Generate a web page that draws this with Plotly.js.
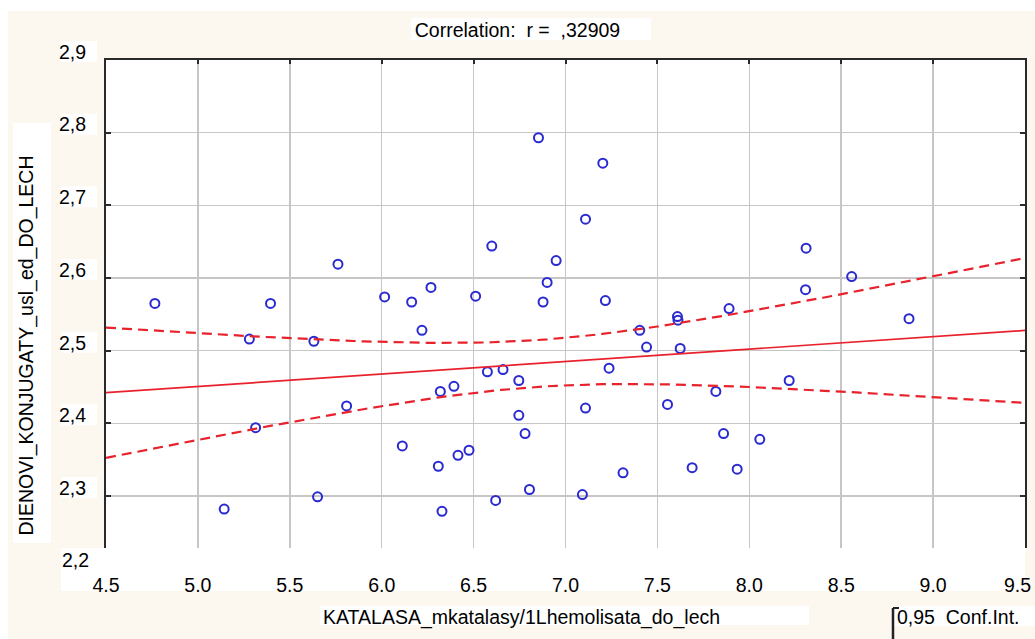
<!DOCTYPE html>
<html>
<head>
<meta charset="utf-8">
<script src="https://cdn.plot.ly/plotly-3.0.1.min.js"></script>
<style>html,body{margin:0;padding:0;background:#fff;}#chart{width:1035px;height:639px;}</style>
</head>
<body>
<div id="chart"></div>
<script>
// ---- data ----
const katalasa = [4.766,5.143,5.280,5.314,5.395,5.631,5.651,5.762,5.809,6.016,6.112,6.163,6.219,6.268,6.308,6.319,6.328,6.393,6.415,6.475,6.511,6.575,6.599,6.620,6.660,6.746,6.746,6.780,6.804,6.853,6.878,6.900,6.949,7.092,7.109,7.109,7.203,7.217,7.237,7.313,7.404,7.441,7.555,7.609,7.612,7.624,7.689,7.818,7.860,7.890,7.934,8.057,8.217,8.306,8.309,8.557,8.869];
const dienovi = [2.565,2.282,2.516,2.394,2.565,2.513,2.299,2.619,2.424,2.574,2.369,2.567,2.528,2.587,2.341,2.444,2.279,2.451,2.356,2.363,2.575,2.471,2.644,2.294,2.474,2.459,2.411,2.386,2.309,2.793,2.567,2.594,2.624,2.302,2.681,2.421,2.758,2.569,2.476,2.332,2.528,2.505,2.426,2.547,2.542,2.503,2.339,2.444,2.386,2.558,2.337,2.378,2.459,2.584,2.641,2.602,2.544];
const xTickVals = [4.5,5.0,5.5,6.0,6.5,7.0,7.5,8.0,8.5,9.0,9.5];
const xTickText = ['4.5','5.0','5.5','6.0','6.5','7.0','7.5','8.0','8.5','9.0','9.5'];
const yTickVals = [2.3,2.4,2.5,2.6,2.7,2.8,2.9];
const yTickText = ['2,3','2,4','2,5','2,6','2,7','2,8','2,9'];
const yBottomTick = 2.2, yBottomText = '2,2';
const titleText = 'Correlation:\u00a0 r =\u00a0 ,32909';
const xTitle = 'KATALASA_mkatalasy/1Lhemolisata_do_lech';
const yTitle = 'DIENOVI_KONJUGATY_usl_ed_DO_LECH';
const legendText = '0,95\u00a0 Conf.Int.';
const confT = 2.004; // t(0.975, n-2)

// ---- regression with 95% confidence band, computed from the data ----
const n = katalasa.length;
const mx = katalasa.reduce((a,b)=>a+b,0)/n;
const my = dienovi.reduce((a,b)=>a+b,0)/n;
let sxx=0, sxy=0;
for (let i=0;i<n;i++){ sxx += (katalasa[i]-mx)**2; sxy += (katalasa[i]-mx)*(dienovi[i]-my); }
const b = sxy/sxx, a = my - b*mx;
let sse=0; for (let i=0;i<n;i++){ sse += (dienovi[i]-(a+b*katalasa[i]))**2; }
const s = Math.sqrt(sse/(n-2));
const xr = [xTickVals[0], xTickVals[xTickVals.length-1]];
const fx=[], fy=[], lo=[], hi=[];
for (let k=0;k<=100;k++){
  const x = xr[0] + (xr[1]-xr[0])*k/100;
  const y = a + b*x;
  const h = confT*s*Math.sqrt(1/n + (x-mx)**2/sxx);
  fx.push(x); fy.push(y); lo.push(y-h); hi.push(y+h);
}

// ---- layout geometry (pixels) ----
const W=1035, H=639, L=106, R=10, T=60, B=91;
const PW = W-L-R, PH = H-T-B;
const yMin = 2.2285, yMax = 2.9;
const px = p => (p-L)/PW;            // pixel x -> paper
const py = p => (H-B-p)/PH;          // pixel y -> paper
const dataPy = v => T + (yMax-v)/(yMax-yMin)*PH;
const cream = '#fcf8ef';
const FONT = 'Liberation Sans, Arial, sans-serif';
const FS = 19.5;

// the last x tick label is drawn as an annotation, nudged left so it stays inside the picture
const lastX = xTickVals.length-1;
const xTickShown = xTickText.map((t,i)=> i===lastX ? '' : t);

function rect(x0,y0,x1,y1,color){
  return {type:'rect', xref:'paper', yref:'paper', x0:px(x0), x1:px(x1), y0:py(y1), y1:py(y0),
          fillcolor:color, line:{width:0}, layer:'below'};
}
const shapes = [
  rect(0,0,W,11,'#ffffff'),
  rect(0,0,8,H,'#ffffff'),
  rect(411,18,651,40,'#ffffff'),
  rect(13,123,51,543,'#ffffff'),
  rect(61,548,1025,591,'#ffffff'),
  rect(320,606,809,625,'#ffffff'),
  rect(893,606,W,626,'#ffffff'),
  {type:'line', xref:'paper', yref:'paper', x0:px(893), x1:px(893), y0:py(608), y1:py(H), line:{color:'#222', width:2.5}},
  {type:'line', xref:'paper', yref:'paper', x0:px(893), x1:px(899), y0:py(608), y1:py(608), line:{color:'#222', width:2}}
];
yTickVals.concat([yBottomTick]).forEach(v=>{
  const g = dataPy(v);
  shapes.push(rect(61, g-19, 97, g+2, '#ffffff'));
});

const traces = [
  {x:katalasa, y:dienovi, type:'scatter', mode:'markers', hoverinfo:'skip',
   marker:{symbol:'circle-open', size:9, color:'#2a2ad0', line:{width:2, color:'#2a2ad0'}}},
  {x:fx, y:fy, type:'scatter', mode:'lines', line:{color:'#e8222c', width:1.7}, hoverinfo:'skip'},
  {x:fx, y:hi, type:'scatter', mode:'lines', line:{color:'#e8222c', width:2.2, dash:'10px,6px'}, hoverinfo:'skip'},
  {x:fx, y:lo, type:'scatter', mode:'lines', line:{color:'#e8222c', width:2.2, dash:'10px,6px'}, hoverinfo:'skip'},
  {x:[], y:[], xaxis:'x2', type:'scatter', mode:'markers', hoverinfo:'skip'}
];

const layout = {
  width:W, height:H, showlegend:false,
  paper_bgcolor:cream, plot_bgcolor:'#ffffff',
  margin:{l:L, r:R, t:T, b:B, pad:0},
  font:{family:FONT, size:FS, color:'#000'},
  title:{text:titleText, x:0.5, xref:'container', xanchor:'center', y:1-30/H, yanchor:'middle',
         font:{family:FONT, size:FS, color:'#000'}},
  xaxis:{range:xr, tickvals:xTickVals, ticktext:xTickShown, showgrid:true, gridcolor:'#c6c6c6', gridwidth:1.5,
         zeroline:false, showline:false, ticks:'', ticklabelstandoff:23, ticklabeloverflow:'allow',
         tickfont:{family:FONT, size:FS, color:'#000'}},
  xaxis2:{overlaying:'x', side:'top', anchor:'y', range:xr, tickvals:xTickVals, showticklabels:false,
          showgrid:false, zeroline:false, showline:true, linecolor:'#2a2a2a', linewidth:2,
          ticks:'inside', ticklen:4, tickwidth:2, tickcolor:'#2a2a2a'},
  yaxis:{range:[yMin,yMax], tickvals:yTickVals, ticktext:yTickText, showgrid:true, gridcolor:'#c6c6c6', gridwidth:1.5,
         zeroline:false, showline:true, mirror:'ticks', linecolor:'#2a2a2a', linewidth:2,
         ticks:'inside', ticklen:5, tickwidth:2, tickcolor:'#2a2a2a',
         ticklabelstandoff:14, ticklabelshift:-8, ticklabeloverflow:'allow',
         tickfont:{family:FONT, size:FS, color:'#000'}},
  shapes:shapes,
  annotations:[
    {text:xTickText[lastX], xref:'x', yref:'paper', x:xTickVals[lastX], y:py(585), xanchor:'center', yanchor:'middle', xshift:-8,
     showarrow:false, font:{family:FONT, size:FS, color:'#000'}},
    {text:yBottomText, xref:'paper', yref:'paper', x:px(91), y:py(560), xanchor:'right', yanchor:'middle',
     showarrow:false, font:{family:FONT, size:FS, color:'#000'}},
    {text:xTitle, xref:'paper', yref:'paper', x:px(321), y:py(617), xanchor:'left', yanchor:'middle',
     showarrow:false, font:{family:FONT, size:FS, color:'#000'}},
    {text:yTitle, xref:'paper', yref:'paper', x:px(26), y:py(345.5), xanchor:'center', yanchor:'middle', textangle:-90,
     showarrow:false, font:{family:FONT, size:FS, color:'#000'}},
    {text:legendText, xref:'paper', yref:'paper', x:px(895), y:py(617), xanchor:'left', yanchor:'middle',
     showarrow:false, font:{family:FONT, size:FS, color:'#000'}}
  ]
};

Plotly.newPlot('chart', traces, layout, {staticPlot:true, displayModeBar:false});
</script>
</body>
</html>
